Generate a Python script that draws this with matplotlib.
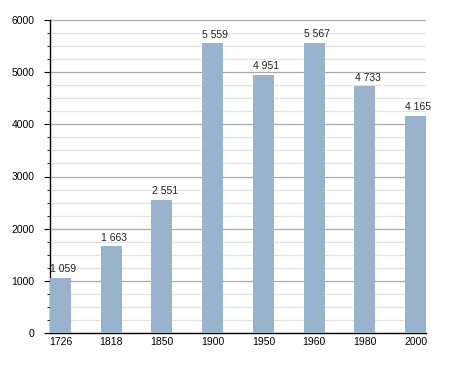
import matplotlib
matplotlib.use("Agg")
import matplotlib.pyplot as plt
from matplotlib.ticker import MultipleLocator

years = ["1726", "1818", "1850", "1900", "1950", "1960", "1980", "2000"]
population = [1059, 1663, 2551, 5559, 4951, 5567, 4733, 4165]

BAR_COLOR = "#99b3cc"
BAR_WIDTH = 0.41

plt.rcParams["font.family"] = ["Liberation Sans", "DejaVu Sans"]

fig = plt.figure(figsize=(4.55, 3.73), dpi=100)
ax = fig.add_axes([50 / 455, 40 / 373, 376 / 455, 313 / 373])

x = list(range(len(years)))
ax.bar(x, population, width=BAR_WIDTH, color=BAR_COLOR, zorder=3)

# value labels, slightly right of centre like the original
for xi, v in zip(x, population):
    label = "{:,}".format(v).replace(",", " ")
    ax.annotate(label, (xi, v), xytext=(2, 2.5), textcoords="offset points",
                ha="center", va="bottom", fontsize=7.5, color="#222222")

ax.set_xlim(-BAR_WIDTH / 2, len(years) - 1 + BAR_WIDTH / 2)
ax.set_ylim(0, 6000)
ax.set_xticks(x)
ax.set_xticklabels(years)
ax.yaxis.set_major_locator(MultipleLocator(1000))
ax.yaxis.set_minor_locator(MultipleLocator(250))

ax.grid(axis="y", which="major", color="#aaaaaa", linewidth=0.9, zorder=0)
ax.grid(axis="y", which="minor", color="#e3e3e3", linewidth=0.9, zorder=0)
ax.set_axisbelow(True)

for side in ["top", "right"]:
    ax.spines[side].set_visible(False)
ax.spines["left"].set_linewidth(1.0)
ax.spines["bottom"].set_linewidth(1.0)

ax.tick_params(axis="x", length=0, labelsize=7.5, pad=3)
ax.tick_params(axis="y", which="major", length=4, labelsize=7.5, pad=7)
ax.tick_params(axis="y", which="minor", length=2)

fig.savefig("out.png", dpi=100)
